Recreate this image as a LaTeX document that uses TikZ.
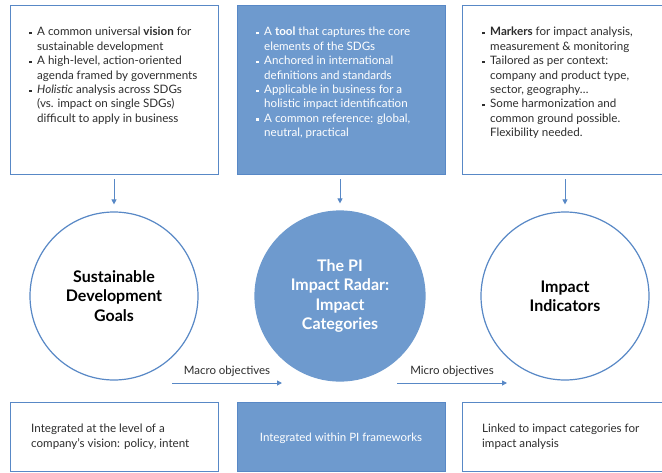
\documentclass[tikz,border=0pt]{standalone}
\usepackage{fontspec}
\setmainfont{Lato}
\usetikzlibrary{arrows.meta}

\definecolor{piblue}{RGB}{110,154,206}
\definecolor{piline}{RGB}{88,136,198}
\definecolor{pitext}{RGB}{45,45,45}

% square bullet with hanging indent
\newcommand{\sqbul}{\makebox[8pt][l]{\raisebox{0.25ex}{\rule{2.4pt}{2.4pt}}}}
\newcommand{\hang}{\hspace*{8pt}}

\tikzset{
  openbox/.style={draw=piline, line width=1.2pt, fill=white, rectangle, inner sep=0pt, anchor=north west},
  fullbox/.style={draw=piline, line width=1.2pt, fill=piblue, rectangle, inner sep=0pt, anchor=north west},
  opencirc/.style={draw=piline, line width=1.2pt, fill=white, circle, minimum size=168pt, inner sep=0pt,
    align=center, font=\fontsize{16}{19.2}\selectfont\bfseries, text=black},
  fullcirc/.style={draw=piblue, line width=1.2pt, fill=piblue, circle, minimum size=170pt, inner sep=0pt,
    align=center, font=\fontsize{16}{19.2}\selectfont\bfseries, text=white},
  bodytext/.style={inner sep=0pt, align=left, anchor=north west, text=pitext,
    font=\fontsize{11.6}{14.4}\selectfont},
  lbl/.style={inner sep=0pt, text=pitext, font=\fontsize{11.5}{13}\selectfont},
  arr/.style={draw=piline, line width=1pt, -{Triangle[length=5pt,width=5pt]}},
}

\begin{document}
\begin{tikzpicture}[x=1pt, y=-1pt]
\useasboundingbox (0,0) rectangle (662,472);
\fill[white] (0,0) rectangle (662,472);

% top row of boxes
\node[openbox, minimum width=208pt, minimum height=169pt] (sdgbox) at (10,5) {};
\node[fullbox, minimum width=208pt, minimum height=169pt] (radarbox) at (237,5) {};
\node[openbox, minimum width=220pt, minimum height=169pt] (indbox) at (462,5) {};

\node[bodytext] (sdgtext) at (29,27) {%
\sqbul A common universal \textbf{vision} for\\
\hang sustainable development\\
\sqbul A high-level, action-oriented\\
\hang agenda framed by governments\\
\sqbul \textit{Holistic} analysis across SDGs\\
\hang (vs. impact on single SDGs)\\
\hang difficult to apply in business};

\node[bodytext, text=white] (radartext) at (256,27) {%
\sqbul A \textbf{tool} that captures the core\\
\hang elements of the SDGs\\
\sqbul Anchored in international\\
\hang definitions and standards\\
\sqbul Applicable in business for a\\
\hang holistic impact identification\\
\sqbul A common reference: global,\\
\hang neutral, practical};

\node[bodytext] (indtext) at (482,27) {%
\sqbul \textbf{Markers} for impact analysis,\\
\hang measurement \& monitoring\\
\sqbul Tailored as per context:\\
\hang company and product type,\\
\hang sector, geography\dots\\
\sqbul Some harmonization and\\
\hang common ground possible.\\
\hang Flexibility needed.};

% middle row of circles
\node[opencirc] (sdg) at (114,296) {Sustainable\\Development\\Goals};
\node[fullcirc] (radar) at (340,296) {The PI\\Impact Radar:\\Impact\\Categories};
\node[opencirc] (ind) at (565,296) {Impact\\Indicators};

% downward arrows from the boxes to the circles
\draw[arr, shorten <=4pt, shorten >=7pt] (sdgbox.south -| sdg.north) -- (sdg.north);
\draw[arr, shorten <=4pt, shorten >=7pt] (radarbox.south -| radar.north) -- (radar.north);
\draw[arr, shorten <=4pt, shorten >=7pt] (indbox.south -| ind.north) -- (ind.north);

% horizontal objective arrows
\coordinate (macroS) at (172,383);
\coordinate (macroE) at (282,383);
\coordinate (microS) at (397,383);
\coordinate (microE) at (507,383);
\draw[arr] (macroS) -- (macroE);
\draw[arr] (microS) -- (microE);
\node[lbl] (macrolbl) at (227,371) {Macro objectives};
\node[lbl] (microlbl) at (452,371) {Micro objectives};

% bottom row of boxes
\node[openbox, minimum width=208pt, minimum height=69pt] (sdguse) at (10,402) {};
\node[fullbox, minimum width=208pt, minimum height=69pt] (radaruse) at (237,402) {};
\node[openbox, minimum width=220pt, minimum height=69pt] (induse) at (462,402) {};

\node[bodytext] (sdgusetext) at (31,424) {Integrated at the level of a\\company's vision: policy, intent};
\node[lbl, text=white] (radarusetext) at (341,438) {Integrated within PI frameworks};
\node[bodytext] (indusetext) at (482,424) {Linked to impact categories for\\impact analysis};
\end{tikzpicture}
\end{document}
